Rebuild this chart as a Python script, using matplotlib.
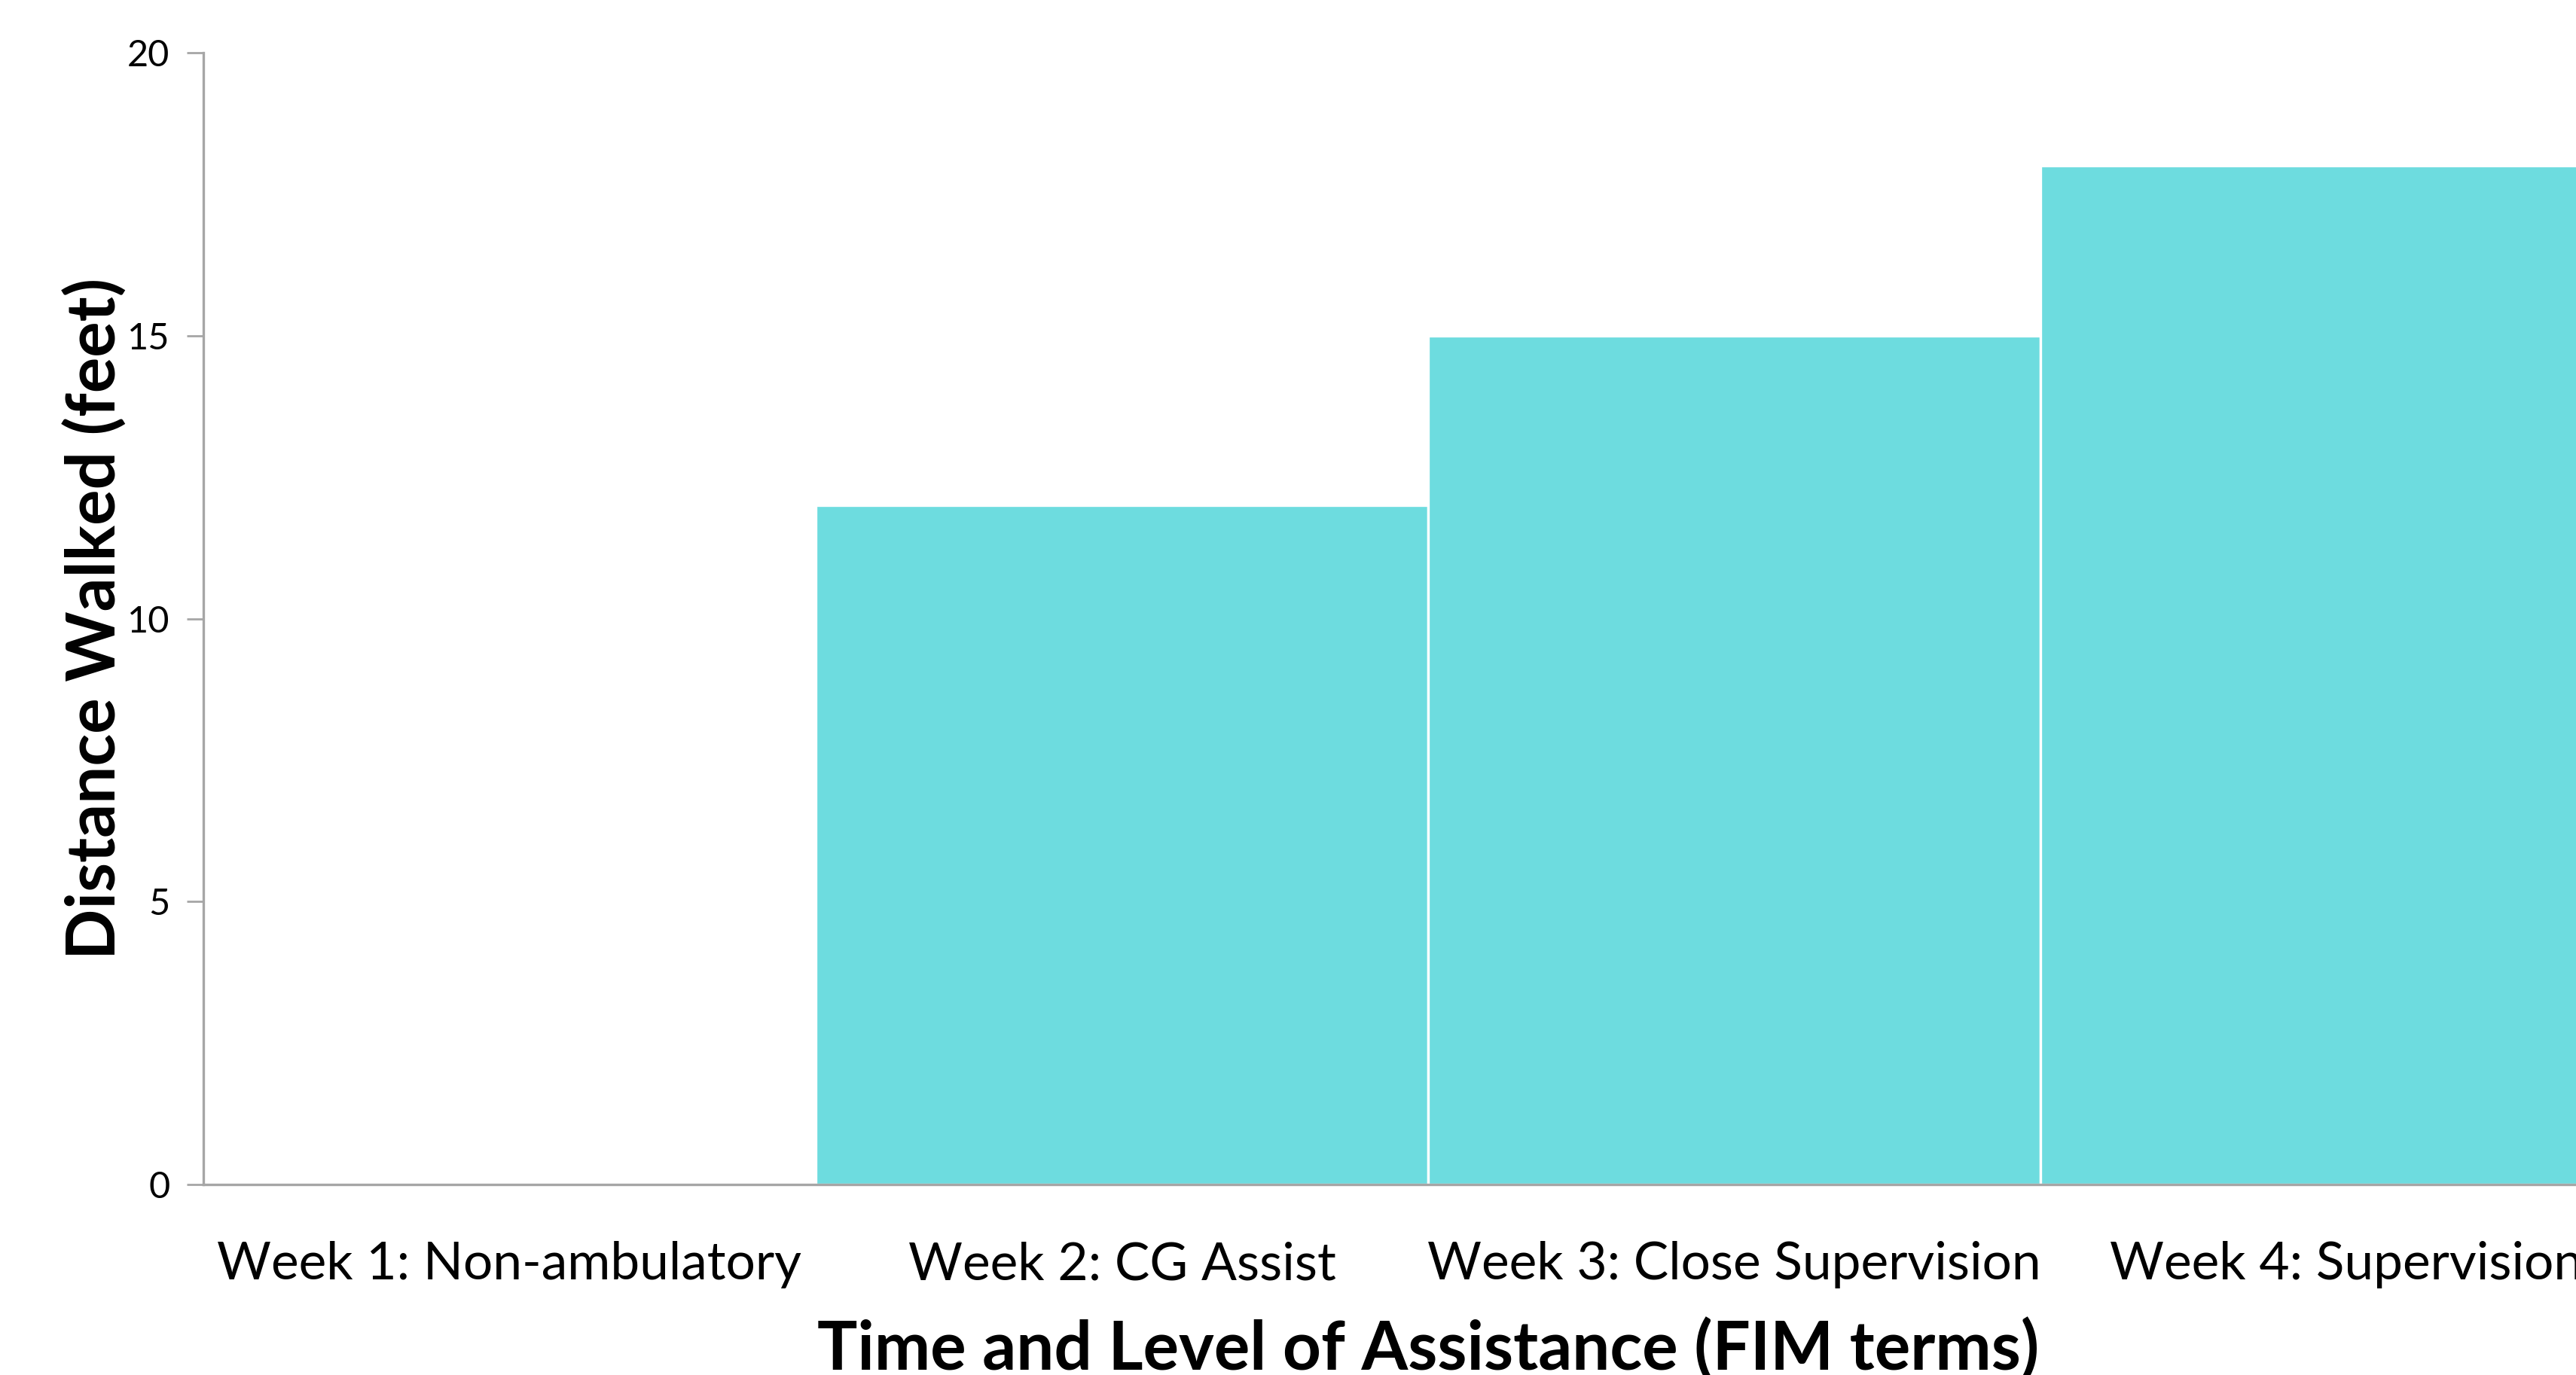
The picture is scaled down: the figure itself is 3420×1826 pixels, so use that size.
import numpy as np
import matplotlib.pyplot as plt

categories = ["Week 1: Non-ambulatory", "Week 2: CG Assist",
              "Week 3: Close Supervision", "Week 4: Supervision"]
distance = [0, 12, 15, 18]
yticks = [0, 5, 10, 15, 20]

plt.rcParams['font.family'] = ['Lato', 'DejaVu Sans']

fig = plt.figure(figsize=(17.1, 9.13), dpi=200)
# axes runs past the right edge, like the original crop
ax = fig.add_axes([270/3420, 1 - 1573/1826, 3252/3420, (1573-70)/1826])

x = np.arange(len(categories))
ax.bar(x, distance, width=1.0, color="#6DDCDF", edgecolor="white", linewidth=1.2)

ax.set_xlim(-0.5, 3.5)
ax.set_ylim(0, 20)
ax.set_yticks(yticks)
ax.set_xticks(x)
ax.set_xticklabels(categories, fontsize=25)
ax.tick_params(axis='x', length=0, pad=27)
ax.tick_params(axis='y', labelsize=17.5, length=8, width=1, color="#A6A6A6", pad=8)

for s in ["top", "right"]:
    ax.spines[s].set_visible(False)
for s in ["left", "bottom"]:
    ax.spines[s].set_color("#A6A6A6")
    ax.spines[s].set_linewidth(1.2)

ax.set_xlabel("Time and Level of Assistance (FIM terms)", fontsize=32,
              fontweight="bold", labelpad=14)
ax.set_ylabel("Distance Walked (feet)", fontsize=32, fontweight="bold", labelpad=0)

fig.savefig("out.png", dpi=200)
